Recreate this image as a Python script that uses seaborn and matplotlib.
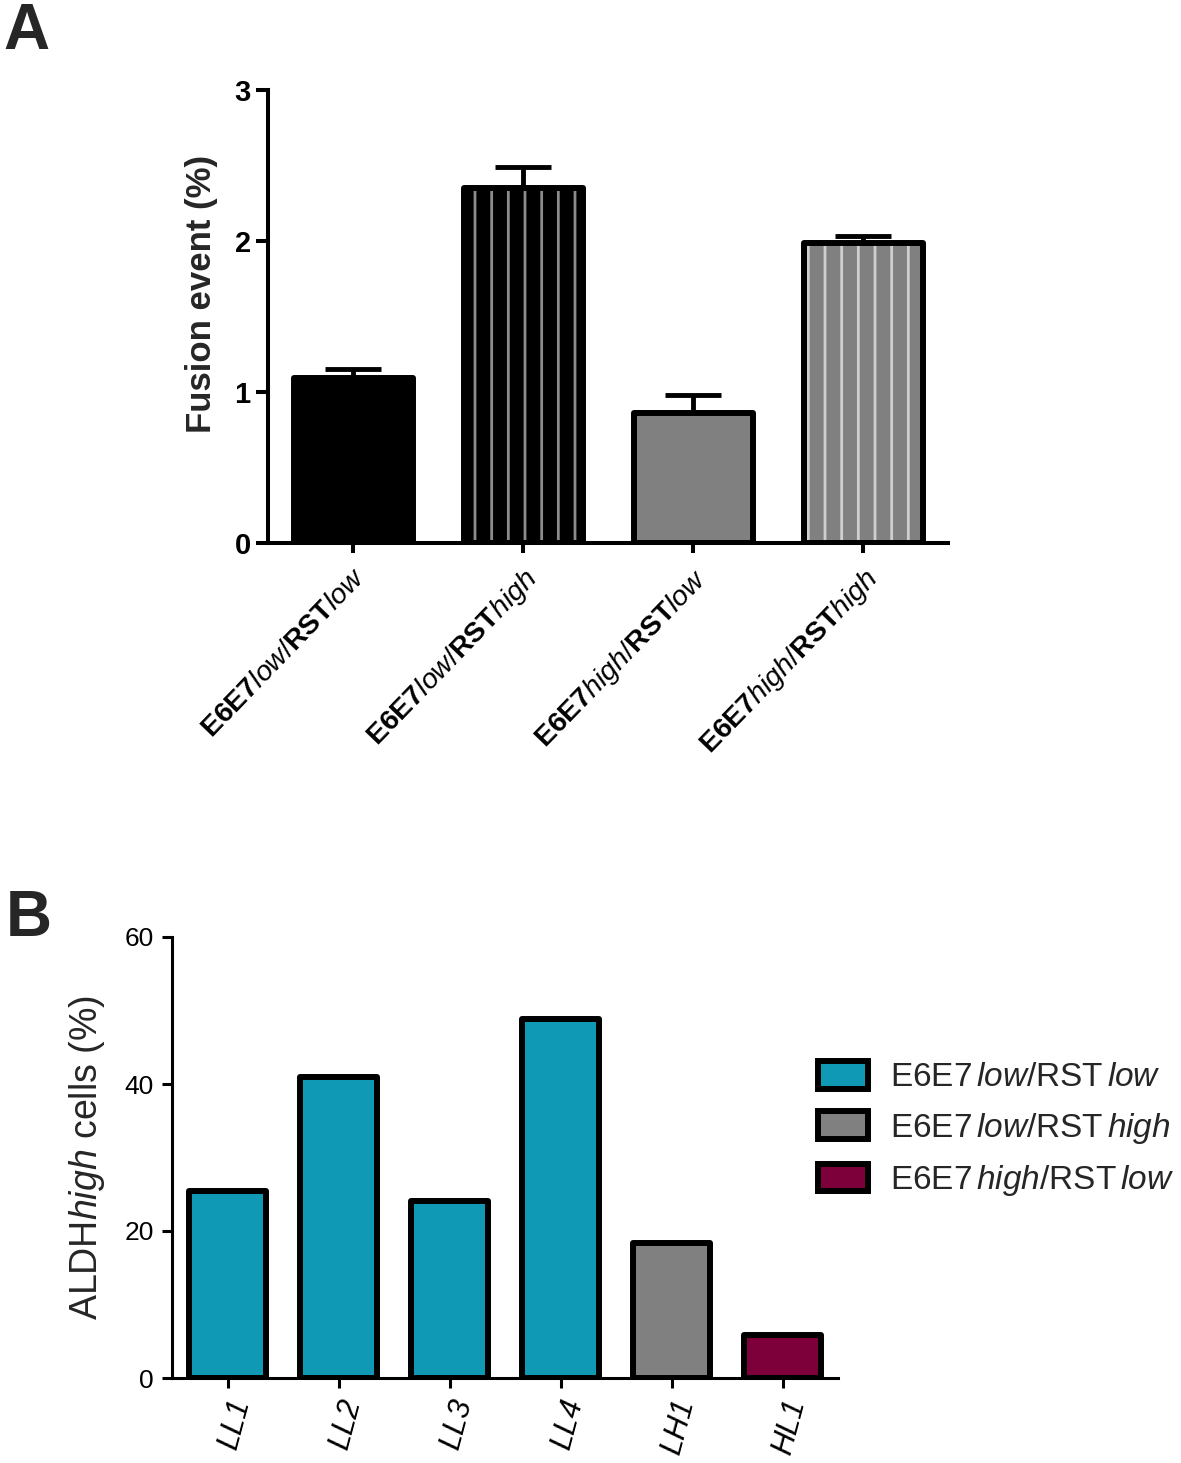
import matplotlib
matplotlib.use("Agg")
import matplotlib.pyplot as plt
import matplotlib.colors as mcolors
from matplotlib.patches import Patch
import seaborn as sns
import pandas as pd

# ---------------- data ----------------
a_categories = ["E6E7low/RSTlow", "E6E7low/RSThigh", "E6E7high/RSTlow", "E6E7high/RSThigh"]
a_tick_labels = [r"$\mathbf{E6E7}\mathit{low}/\mathbf{RST}\mathit{low}$",
                 r"$\mathbf{E6E7}\mathit{low}/\mathbf{RST}\mathit{high}$",
                 r"$\mathbf{E6E7}\mathit{high}/\mathbf{RST}\mathit{low}$",
                 r"$\mathbf{E6E7}\mathit{high}/\mathbf{RST}\mathit{high}$"]
a_values = [1.09, 2.35, 0.86, 1.99]
a_errors = [0.06, 0.14, 0.12, 0.04]
a_colors = ["#000000", "#000000", "#808080", "#808080"]
a_hatch_colors = [None, "#8c8c8c", None, "#cfcfcf"]

b_names = ["LL1", "LL2", "LL3", "LL4", "LH1", "HL1"]
b_values = [25.4, 41.0, 24.1, 48.8, 18.4, 5.9]
b_groups = ["LL", "LL", "LL", "LL", "LH", "HL"]
b_group_order = ["LL", "LH", "HL"]
b_group_labels = [r"E6E7$\,\mathit{low}$/RST$\,\mathit{low}$",
                  r"E6E7$\,\mathit{low}$/RST$\,\mathit{high}$",
                  r"E6E7$\,\mathit{high}$/RST$\,\mathit{low}$"]
b_group_colors = ["#1099b4", "#808080", "#7e003b"]

# ---------------- style ----------------
sns.set_theme(style="ticks")
plt.rcParams["font.family"] = ["Liberation Sans", "DejaVu Sans"]
plt.rcParams["mathtext.fontset"] = "custom"
plt.rcParams["mathtext.rm"] = "Liberation Sans"
plt.rcParams["mathtext.it"] = "Liberation Sans:italic"
plt.rcParams["mathtext.bf"] = "Liberation Sans:bold"
plt.rcParams["hatch.linewidth"] = 2.0

W, H = 1181, 1463
fig = plt.figure(figsize=(W / 100, H / 100), dpi=100)

def ax_rect(l, t, r, b):
    return [l / W, 1 - b / H, (r - l) / W, (b - t) / H]

# ---------------- Panel A ----------------
axA = fig.add_axes(ax_rect(268, 90, 948, 543))
dfA = pd.DataFrame({"group": a_categories, "value": a_values})
sns.barplot(data=dfA, x="group", y="value", hue="group", order=a_categories,
            hue_order=a_categories, palette=a_colors, legend=False, errorbar=None,
            width=0.7, saturation=1, edgecolor="black", linewidth=4.3, ax=axA, zorder=3)
for p, hc in zip(axA.patches, a_hatch_colors):
    p.set_joinstyle("round")
    if hc is not None:
        p.set_hatch("|")
        p._hatch_color = mcolors.to_rgba(hc)
axA.errorbar(range(len(a_values)), a_values,
             yerr=[[0] * len(a_errors), a_errors], fmt="none", ecolor="black",
             elinewidth=3.5, capsize=20, capthick=3.5, zorder=2)
axA.set_xlim(-0.5, 3.5)
axA.set_ylim(0, 3)
axA.set_yticks([0, 1, 2, 3])
axA.set_yticklabels(["0", "1", "2", "3"], fontsize=21, fontweight="bold")
axA.set_xticks(range(4))
axA.set_xticklabels(a_tick_labels, fontsize=20.5, rotation=46, ha="right",
                    rotation_mode="anchor")
axA.set_xlabel("")
axA.set_ylabel("Fusion event (%)", fontsize=25, fontweight="bold")
axA.yaxis.set_label_coords(-0.073, 0.55)
for s in ["top", "right"]:
    axA.spines[s].set_visible(False)
for s in ["left", "bottom"]:
    axA.spines[s].set_linewidth(2.9)
    axA.spines[s].set_color("black")
axA.tick_params(axis="y", length=8.5, width=2.9, pad=4, colors="black")
axA.tick_params(axis="x", length=7, width=2.9, pad=8, colors="black")

# ---------------- Panel B ----------------
axB = fig.add_axes(ax_rect(172, 937, 838, 1378))
dfB = pd.DataFrame({"name": b_names, "value": b_values, "grp": b_groups})
sns.barplot(data=dfB, x="name", y="value", hue="grp", order=b_names,
            hue_order=b_group_order, palette=b_group_colors, dodge=False,
            legend=False, errorbar=None, width=0.7, saturation=1,
            edgecolor="black", linewidth=4.3, ax=axB, zorder=3)
for p in axB.patches:
    p.set_joinstyle("round")
axB.set_xlim(-0.5, 5.5)
axB.set_ylim(0, 60)
axB.set_yticks([0, 20, 40, 60])
axB.set_yticklabels(["0", "20", "40", "60"], fontsize=19)
axB.set_xticks(range(len(b_names)))
axB.set_xticklabels(b_names, fontsize=22, style="italic", rotation=75,
                    ha="right", rotation_mode="anchor")
axB.set_xlabel("")
axB.set_ylabel(r"ALDH$\mathit{high}$ cells (%)", fontsize=27)
axB.yaxis.set_label_coords(-0.097, 0.5)
for s in ["top", "right"]:
    axB.spines[s].set_visible(False)
for s in ["left", "bottom"]:
    axB.spines[s].set_linewidth(2.2)
    axB.spines[s].set_color("black")
axB.tick_params(axis="both", length=7, width=2.2, pad=6, colors="black")

handles = [Patch(facecolor=c, edgecolor="black", linewidth=4.3, joinstyle="round")
           for c in b_group_colors]
fig.legend(handles=handles, labels=b_group_labels, loc="upper left",
           bbox_to_anchor=(818 / W, 1 - 1061 / H), frameon=False, fontsize=24,
           handlelength=1.5, handleheight=0.9, handletextpad=0.65,
           labelspacing=0.52, borderpad=0, borderaxespad=0)

# panel letters
fig.text(3 / W, 1 - 2 / H, "A", fontsize=46, fontweight="bold", va="top", ha="left")
fig.text(6 / W, 1 - 889 / H, "B", fontsize=46, fontweight="bold", va="top", ha="left")

fig.savefig("out.png", dpi=100, facecolor="white")
